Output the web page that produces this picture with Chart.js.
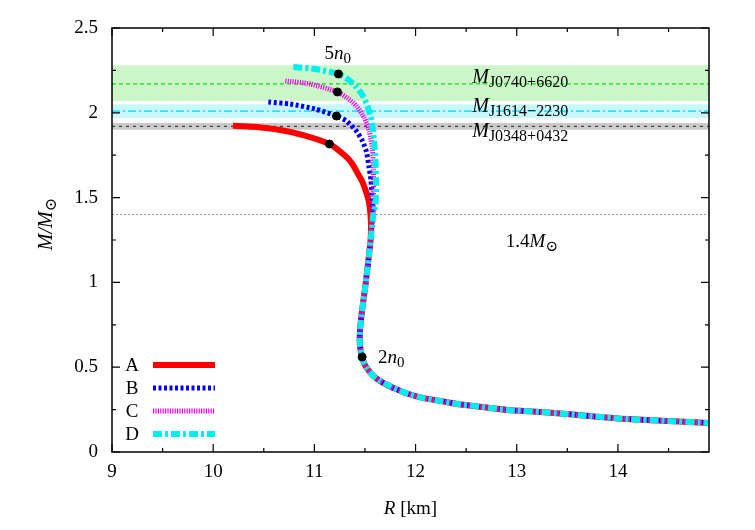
<!DOCTYPE HTML>
<html lang="en">
<head>
<meta charset="utf-8" />
<title>Mass-radius relation</title>
<script src="https://cdn.jsdelivr.net/npm/chart.js"></script>
<style>
    html, body { margin: 0; padding: 0; background: #fff; }
</style>
</head>
<body>
<canvas id="mrChart" width="755" height="530"></canvas>
<script>
    // upper part of each branch (R in km, M in solar masses)
    const aR = [10.195, 10.396, 10.663, 10.891, 11.149, 11.307, 11.376, 11.426, 11.475, 11.505, 11.535, 11.550, 11.559, 11.559];
    const aM = [1.924, 1.918, 1.899, 1.869, 1.816, 1.745, 1.698, 1.645, 1.592, 1.545, 1.486, 1.427, 1.356, 1.297];
    const bR = [10.545, 10.762, 11.010, 11.218, 11.317, 11.406, 11.475, 11.515, 11.540, 11.559, 11.569, 11.579];
    const bM = [2.064, 2.052, 2.022, 1.981, 1.952, 1.899, 1.834, 1.769, 1.680, 1.604, 1.515, 1.427];
    const cR = [10.713, 10.960, 11.228, 11.327, 11.416, 11.495, 11.545, 11.574, 11.584, 11.584, 11.584];
    const cM = [2.188, 2.170, 2.123, 2.087, 2.040, 1.969, 1.887, 1.781, 1.663, 1.545, 1.427];
    const dR = [10.792, 11.010, 11.238, 11.327, 11.406, 11.475, 11.525, 11.564, 11.589, 11.604, 11.609, 11.604];
    const dM = [2.270, 2.258, 2.229, 2.199, 2.158, 2.105, 2.040, 1.958, 1.840, 1.722, 1.574, 1.456];
    // common low-mass part shared by all four
    const tailR = [11.581, 11.569, 11.554, 11.540, 11.525, 11.505, 11.485, 11.465, 11.450, 11.450, 11.472, 11.495, 11.525, 11.574, 11.634,
        11.703, 11.782, 11.931, 12.079, 12.248, 12.416, 12.663, 12.911, 13.238, 13.495, 14.0, 14.495, 14.91];
    const tailM = [1.397, 1.321, 1.238, 1.162, 1.085, 0.985, 0.896, 0.802, 0.708, 0.631, 0.560, 0.519, 0.489, 0.454, 0.425,
        0.401, 0.377, 0.342, 0.318, 0.301, 0.283, 0.265, 0.248, 0.236, 0.224, 0.198, 0.183, 0.171];
    // 5n0 points (D, C, B, A) and the 2n0 point
    const dotR = [11.238, 11.228, 11.218, 11.149, 11.472];
    const dotM = [2.229, 2.123, 1.981, 1.816, 0.560];
    // observed pulsar masses
    const obsNames = ['J0740+6620', 'J1614\u22122230', 'J0348+0432'];
    const obsMid = [2.17, 2.01, 1.92];
    const obsLo = [2.07, 1.97, 1.90];
    const obsHi = [2.28, 2.05, 1.94];
    const canonMass = 1.4;
    const seriesNames = ['A', 'B', 'C', 'D'];

    const serif = '"Liberation Serif", "DejaVu Serif", serif';

    function toPoints(rs, ms) {
        return rs.map((r, i) => ({ x: r, y: ms[i] }));
    }

    const lineStyles = [
        { color: '#ff0000', width: 6, dash: [] },
        { color: '#0000ff', width: 5, dash: [3, 2.5] },
        { color: '#ee00ee', width: 5, dash: [1.2, 1.2] },
        { color: '#00eeee', width: 6, dash: [9, 3, 3, 3] }
    ];

    const branches = [
        toPoints(aR, aM).concat(toPoints(tailR, tailM).slice(2)),
        toPoints(bR, bM).concat(toPoints(tailR, tailM)),
        toPoints(cR, cM).concat(toPoints(tailR, tailM)),
        toPoints(dR, dM).concat(toPoints(tailR, tailM))
    ];

    const datasets = branches.map((pts, i) => ({
        label: seriesNames[i],
        data: pts,
        showLine: true,
        borderColor: lineStyles[i].color,
        borderWidth: lineStyles[i].width,
        borderDash: lineStyles[i].dash,
        pointRadius: 0,
        tension: 0.2,
        order: 4 - i
    }));
    datasets.push({
        label: 'dots',
        data: toPoints(dotR, dotM),
        showLine: false,
        pointRadius: 4,
        pointBackgroundColor: '#000',
        pointBorderColor: '#000',
        order: 0
    });

    // draw text made of pieces: {t, it (italic), sub}
    function drawRich(ctx, parts, x, y, align, size) {
        const subSize = Math.round(size * 0.78);
        let total = 0;
        parts.forEach(p => {
            ctx.font = (p.it ? 'italic ' : '') + (p.sub ? subSize : size) + 'px ' + serif;
            p.w = ctx.measureText(p.t).width;
            total += p.w;
        });
        let cx = align === 'center' ? x - total / 2 : x;
        ctx.textAlign = 'left';
        ctx.textBaseline = 'alphabetic';
        ctx.fillStyle = '#000';
        parts.forEach(p => {
            ctx.font = (p.it ? 'italic ' : '') + (p.sub ? subSize : size) + 'px ' + serif;
            ctx.fillText(p.t, cx, p.sub ? y + 4 : y);
            cx += p.w;
        });
    }

    const bandColors = ['rgba(140, 235, 130, 0.45)', 'rgba(140, 240, 250, 0.5)', 'rgba(150, 150, 150, 0.5)'];
    const bandLines = [
        { color: '#11dd11', dash: [4, 3] },
        { color: '#00d8ee', dash: [8, 3, 2, 3] },
        { color: '#444444', dash: [3, 4] }
    ];

    const bandsPlugin = {
        id: 'bands',
        beforeDatasetsDraw(chart) {
            const { ctx, chartArea: a, scales: { y } } = chart;
            ctx.save();
            ctx.beginPath();
            ctx.rect(a.left, a.top, a.right - a.left, a.bottom - a.top);
            ctx.clip();
            obsMid.forEach((m, i) => {
                ctx.fillStyle = bandColors[i];
                const top = y.getPixelForValue(obsHi[i]);
                ctx.fillRect(a.left, top, a.right - a.left, y.getPixelForValue(obsLo[i]) - top);
            });
            obsMid.forEach((m, i) => {
                ctx.strokeStyle = bandLines[i].color;
                ctx.setLineDash(bandLines[i].dash);
                ctx.lineWidth = 1.3;
                const py = y.getPixelForValue(m);
                ctx.beginPath();
                ctx.moveTo(a.left, py);
                ctx.lineTo(a.right, py);
                ctx.stroke();
            });
            ctx.strokeStyle = '#999';
            ctx.setLineDash([2, 2]);
            ctx.lineWidth = 1;
            const py = y.getPixelForValue(canonMass);
            ctx.beginPath();
            ctx.moveTo(a.left, py);
            ctx.lineTo(a.right, py);
            ctx.stroke();
            ctx.restore();
        }
    };

    const framePlugin = {
        id: 'frame',
        afterDatasetsDraw(chart) {
            const { ctx, chartArea: a, scales: { x, y } } = chart;
            ctx.save();
            // labels on the plot
            drawRich(ctx, [{ t: '5' }, { t: 'n', it: true }, { t: '0', sub: true }],
                x.getPixelForValue(11.23), y.getPixelForValue(2.32), 'center', 19);
            drawRich(ctx, [{ t: '2' }, { t: 'n', it: true }, { t: '0', sub: true }],
                x.getPixelForValue(11.63), y.getPixelForValue(0.525), 'left', 19);
            drawRich(ctx, [{ t: '1.4' }, { t: 'M', it: true }, { t: '\u2299', sub: true }],
                x.getPixelForValue(13.15), y.getPixelForValue(1.21), 'center', 19);
            const labelM = [2.176, 2.006, 1.856];
            obsNames.forEach((n, i) => {
                drawRich(ctx, [{ t: 'M', it: true }, { t: n, sub: true }],
                    x.getPixelForValue(12.56), y.getPixelForValue(labelM[i]), 'left', 20);
            });

            // legend
            seriesNames.forEach((n, i) => {
                const ly = a.bottom - 87 + i * 23;
                ctx.font = '19px ' + serif;
                ctx.fillStyle = '#000';
                ctx.textAlign = 'center';
                ctx.textBaseline = 'middle';
                ctx.fillText(n, a.left + 20, ly + 1);
                ctx.strokeStyle = lineStyles[i].color;
                ctx.lineWidth = lineStyles[i].width;
                ctx.setLineDash(lineStyles[i].dash);
                ctx.beginPath();
                ctx.moveTo(a.left + 41, ly);
                ctx.lineTo(a.left + 103, ly);
                ctx.stroke();
            });
            ctx.setLineDash([]);

            // frame and inward ticks
            ctx.strokeStyle = '#000';
            ctx.lineWidth = 1.5;
            ctx.strokeRect(a.left, a.top, a.right - a.left, a.bottom - a.top);
            ctx.lineWidth = 1.2;
            ctx.beginPath();
            for (let v = 9; v <= 14.9; v += 0.5) {
                const len = Number.isInteger(v) ? 8 : 4;
                const px = x.getPixelForValue(v);
                ctx.moveTo(px, a.bottom); ctx.lineTo(px, a.bottom - len);
                ctx.moveTo(px, a.top); ctx.lineTo(px, a.top + len);
            }
            for (let v = 0; v <= 2.5; v += 0.25) {
                const len = Math.abs(v * 2 - Math.round(v * 2)) < 1e-6 ? 8 : 4;
                const py = y.getPixelForValue(v);
                ctx.moveTo(a.left, py); ctx.lineTo(a.left + len, py);
                ctx.moveTo(a.right, py); ctx.lineTo(a.right - len, py);
            }
            ctx.stroke();

            // axis titles
            drawRich(ctx, [{ t: 'R', it: true }, { t: ' [km]' }], (a.left + a.right) / 2, 514, 'center', 19);
            ctx.translate(52, 224);
            ctx.rotate(-Math.PI / 2);
            drawRich(ctx, [{ t: 'M/M', it: true }, { t: '\u2299', sub: true }], 0, 0, 'center', 20);
            ctx.restore();
        }
    };

    window.onload = function () {
        const ctx = document.getElementById('mrChart').getContext('2d');
        new Chart(ctx, {
            type: 'scatter',
            data: { datasets: datasets },
            options: {
                responsive: false,
                animation: false,
                devicePixelRatio: 1,
                layout: { padding: { top: 28, right: 46, left: 0, bottom: 0 } },
                plugins: { legend: { display: false }, tooltip: { enabled: false } },
                scales: {
                    x: {
                        type: 'linear',
                        min: 9,
                        max: 14.9,
                        afterFit: s => { s.height = 78; },
                        grid: { display: false, drawTicks: false },
                        border: { display: false },
                        ticks: { stepSize: 1, includeBounds: false, padding: 9, color: '#000', font: { family: serif, size: 19 } }
                    },
                    y: {
                        type: 'linear',
                        min: 0,
                        max: 2.5,
                        afterFit: s => { s.width = 112; },
                        grid: { display: false, drawTicks: false },
                        border: { display: false },
                        ticks: {
                            stepSize: 0.5, padding: 14, color: '#000', font: { family: serif, size: 19 },
                            callback: v => String(v)
                        }
                    }
                }
            },
            plugins: [bandsPlugin, framePlugin]
        });
    };
</script>
</body>
</html>
